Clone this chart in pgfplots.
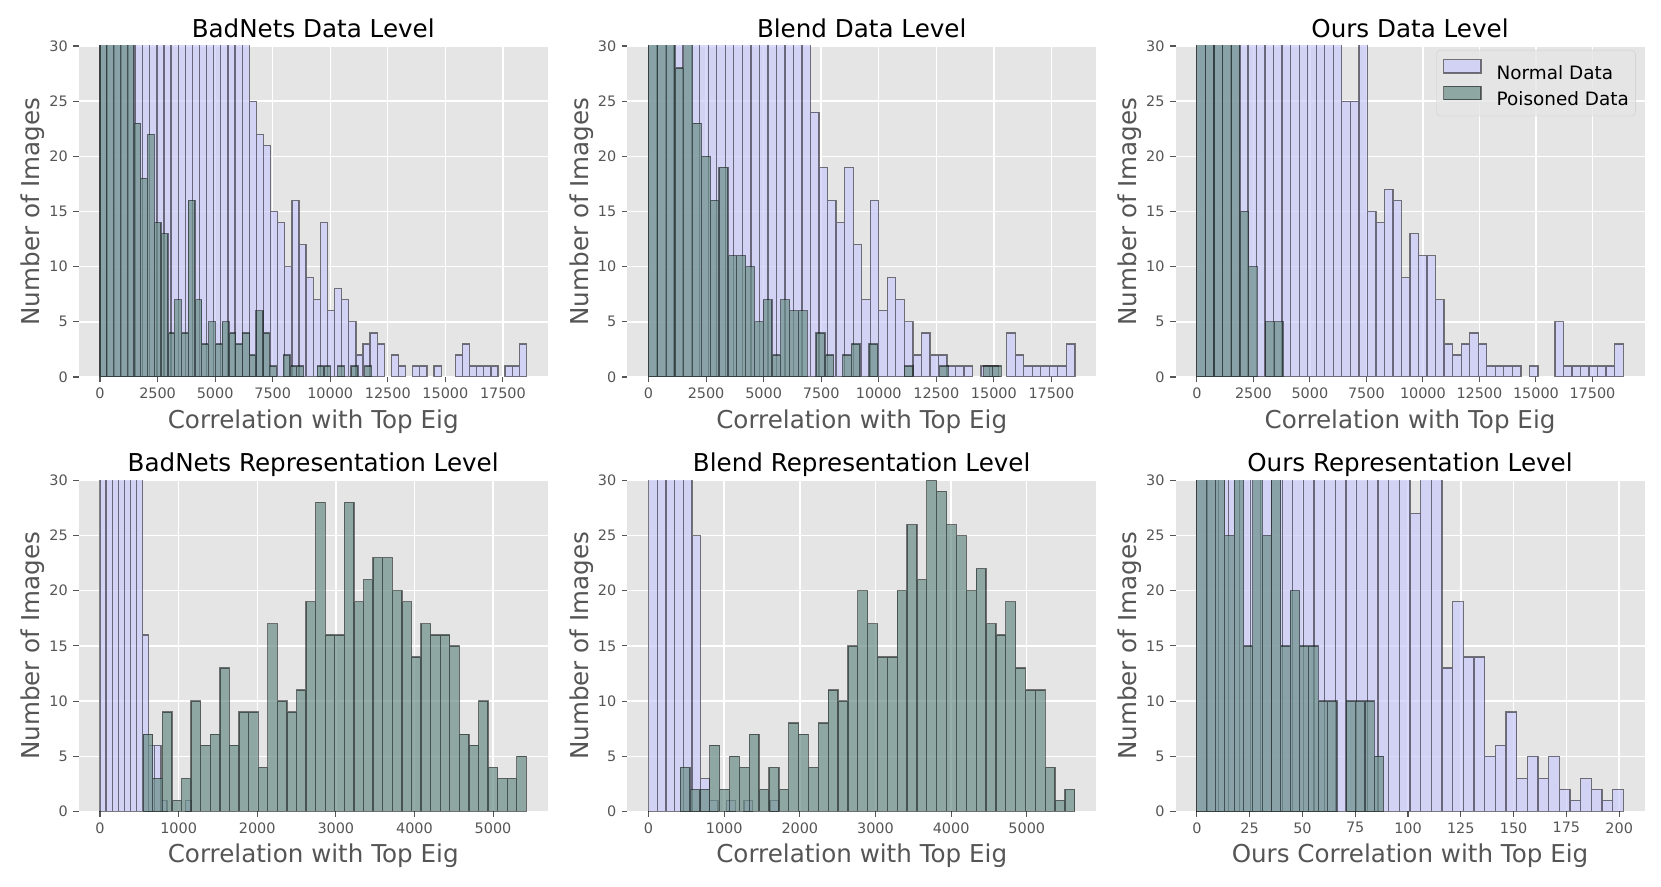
\documentclass[border=0pt]{standalone}
\usepackage{pgfplots}
\pgfplotsset{compat=1.18}
\usepackage{fontspec}
\setmainfont{DejaVu Sans}

\definecolor{bg}{HTML}{E5E5E5}
\definecolor{tickc}{HTML}{555555}
\definecolor{lav}{RGB}{203,203,253}
\definecolor{sage}{RGB}{106,142,136}
\definecolor{legedge}{HTML}{CCCCCC}

\newcommand\titlefont{\fontsize{24.6}{29}\selectfont}
\newcommand\labfont{\fontsize{24.6}{29}\selectfont}
\newcommand\tickfont{\fontsize{14.4}{17}\selectfont}
\newcommand\legfont{\fontsize{18.4}{22}\selectfont}

\pgfplotsset{
  panel/.style={
    width=469pt, height=331pt, scale only axis,
    anchor=south west,
    axis background/.style={fill=bg},
    axis line style={draw=none},
    grid=major, grid style={white, line width=1.4pt},
    tick align=outside, tick pos=left, major tick length=5.4pt,
    tick style={tickc, line width=1.1pt},
    ymin=0, ymax=30, ytick={0,5,...,30},
    enlargelimits=false, scaled ticks=false,
    ticklabel style={font=\tickfont, text=tickc, inner sep=0pt},
    xticklabel style={yshift=-5.4pt},
    yticklabel style={xshift=-5.4pt},
    /pgf/number format/1000 sep={},
    /pgf/number format/assume math mode=true,
    every axis title shift=0pt,
    title style={font=\titlefont, at={(axis description cs:0.5,1.0257)}, anchor=base, inner sep=0pt},
    xlabel style={font=\labfont, text=tickc, at={(axis description cs:0.5,-0.155)}, anchor=base, inner sep=0pt},
    ylabel style={font=\labfont, text=tickc, at={(axis description cs:-0.0832,0.5)}, anchor=base, inner sep=0pt},
    ylabel={Number of Images},
    xlabel={Correlation with Top Eig},
  },
  hist/.style={ybar, bar shift=0pt, draw=black, draw opacity=0.5, line width=1.3pt, fill opacity=0.7,
    legend image code/.code={\draw[##1, sharp corners] (0pt,0pt) rectangle (37.3pt,13.4pt);}},
  normal/.style={hist, fill=lav},
  poison/.style={hist, fill=sage},
}

\begin{document}
\begin{tikzpicture}

% ---------- top row: data level ----------
\begin{axis}[panel, at={(78.7pt,509pt)}, title={BadNets Data Level},
  xmin=-926, xmax=19446, xtick={0,2500,...,17500}]
\addplot[normal, bar width=308.7] table[row sep=\\, x expr=\thisrow{k}*308.7+154.35, y=n]{k n\\
0 40\\1 40\\2 40\\3 40\\4 40\\5 40\\6 40\\7 40\\8 40\\9 40\\10 40\\11 40\\12 40\\13 40\\14 40\\15 40\\16 40\\17 40\\18 40\\19 40\\20 40\\
21 25\\22 22\\23 21\\24 15\\25 14\\26 10\\27 16\\28 12\\29 9\\30 7\\31 14\\32 6\\33 8\\34 7\\35 5\\36 2\\37 3\\38 4\\39 3\\
41 2\\42 1\\44 1\\45 1\\47 1\\50 2\\51 3\\52 1\\53 1\\54 1\\55 1\\57 1\\58 1\\59 3\\};
\addplot[poison, bar width=294.75] table[row sep=\\, x expr=\thisrow{k}*294.75+147.375, y=n]{k n\\
0 40\\1 40\\2 40\\3 40\\4 40\\5 23\\6 18\\7 22\\8 14\\9 13\\10 4\\11 7\\12 4\\13 16\\14 7\\15 3\\16 5\\17 3\\18 5\\19 4\\
20 3\\21 4\\22 2\\23 6\\24 4\\25 1\\27 2\\28 1\\29 1\\32 1\\33 1\\35 1\\37 1\\39 1\\};
\end{axis}

\begin{axis}[panel, at={(627.2pt,509pt)}, title={Blend Data Level},
  xmin=-926, xmax=19446, xtick={0,2500,...,17500}]
\addplot[normal, bar width=370.4] table[row sep=\\, x expr=\thisrow{k}*370.4+185.2, y=n]{k n\\
0 40\\1 40\\2 40\\3 40\\4 40\\5 40\\6 40\\7 40\\8 40\\9 40\\10 40\\11 40\\12 40\\13 40\\14 40\\15 40\\16 40\\17 40\\18 40\\
19 24\\20 19\\21 16\\22 14\\23 19\\24 12\\25 7\\26 16\\27 6\\28 9\\29 7\\30 5\\31 2\\32 4\\33 2\\34 2\\35 1\\36 1\\37 1\\
39 1\\40 1\\42 4\\43 2\\44 1\\45 1\\46 1\\47 1\\48 1\\49 3\\};
\addplot[poison, bar width=383] table[row sep=\\, x expr=\thisrow{k}*383+191.5, y=n]{k n\\
0 40\\1 40\\2 40\\3 28\\4 40\\5 23\\6 20\\7 16\\8 19\\9 11\\10 11\\11 10\\12 5\\13 7\\14 2\\15 7\\16 6\\17 6\\19 4\\20 2\\
22 2\\23 3\\25 3\\29 1\\33 1\\38 1\\39 1\\};
\end{axis}

\begin{axis}[panel, at={(1175.5pt,509pt)}, title={Ours Data Level},
  xmin=-943, xmax=19803, xtick={0,2500,...,17500},
  legend style={at={(axis description cs:0.981,0.988)}, anchor=north east,
    fill=bg, fill opacity=0.8, text opacity=1, draw=legedge, rounded corners=4pt,
    font=\legfont, text=black, inner xsep=6.6pt, inner ysep=8.7pt, row sep=4.9pt,
    nodes={inner sep=0pt},
    /tikz/every odd column/.append style={column sep=15pt}},
  legend cell align=left]
\addplot[normal, bar width=377.2] table[row sep=\\, x expr=\thisrow{k}*377.2+188.6, y=n]{k n\\
0 40\\1 40\\2 40\\3 40\\4 40\\5 40\\6 40\\7 40\\8 40\\9 40\\10 40\\11 40\\12 40\\13 40\\14 40\\15 40\\16 40\\
17 25\\18 25\\19 40\\20 15\\21 14\\22 17\\23 16\\24 9\\25 13\\26 11\\27 11\\28 7\\29 3\\30 2\\31 3\\32 4\\33 3\\
34 1\\35 1\\36 1\\37 1\\39 1\\42 5\\43 1\\44 1\\45 1\\46 1\\47 1\\48 1\\49 3\\};
\addplot[poison, bar width=381.2] table[row sep=\\, x expr=\thisrow{k}*381.2+190.6, y=n]{k n\\
0 40\\1 40\\2 40\\3 40\\4 40\\5 15\\6 10\\8 5\\9 5\\};
\legend{Normal Data, Poisoned Data}
\end{axis}

% ---------- bottom row: representation level ----------
\begin{axis}[panel, at={(78.7pt,74.6pt)}, title={BadNets Representation Level},
  xmin=-271, xmax=5695, xtick={0,1000,...,5000}]
\addplot[normal, bar width=77.5] table[row sep=\\, x expr=\thisrow{k}*77.5+38.75, y=n]{k n\\
0 40\\1 40\\2 40\\3 40\\4 40\\5 40\\6 40\\7 16\\8 6\\9 6\\10 1\\14 1\\};
\addplot[poison, bar width=121.85] table[row sep=\\, x expr=\thisrow{k}*121.85+610.9, y=n]{k n\\
0 7\\1 3\\2 9\\3 1\\4 3\\5 10\\6 6\\7 7\\8 13\\9 6\\10 9\\11 9\\12 4\\13 17\\14 10\\15 9\\16 11\\17 19\\18 28\\19 16\\
20 16\\21 28\\22 19\\23 21\\24 23\\25 23\\26 20\\27 19\\28 14\\29 17\\30 16\\31 16\\32 15\\33 7\\34 6\\35 10\\36 4\\37 3\\38 3\\39 5\\};
\end{axis}

\begin{axis}[panel, at={(627.2pt,74.6pt)}, title={Blend Representation Level},
  xmin=-282, xmax=5918, xtick={0,1000,...,5000}]
\addplot[normal, bar width=114.6] table[row sep=\\, x expr=\thisrow{k}*114.6+57.3, y=n]{k n\\
0 40\\1 40\\2 40\\3 40\\4 40\\5 25\\6 3\\7 1\\9 1\\11 1\\14 1\\};
\addplot[poison, bar width=130.4] table[row sep=\\, x expr=\thisrow{k}*130.4+484.2, y=n]{k n\\
0 4\\1 2\\2 2\\3 6\\4 2\\5 5\\6 4\\7 7\\8 2\\9 4\\10 2\\11 8\\12 7\\13 4\\14 8\\15 11\\16 10\\17 15\\18 20\\19 17\\
20 14\\21 14\\22 20\\23 26\\24 21\\25 30\\26 29\\27 26\\28 25\\29 20\\30 22\\31 17\\32 16\\33 19\\34 13\\35 11\\36 11\\37 4\\38 1\\39 2\\};
\end{axis}

\begin{axis}[panel, at={(1175.5pt,74.6pt)}, title={Ours Representation Level},
  xmin=-10.1, xmax=212, xtick={0,25,...,200}, xlabel={Ours Correlation with Top Eig}]
\addplot[normal, bar width=5.05] table[row sep=\\, x expr=\thisrow{k}*5.05+2.525, y=n]{k n\\
0 40\\1 40\\2 40\\3 40\\4 40\\5 40\\6 40\\7 40\\8 40\\9 40\\10 40\\11 40\\12 40\\13 40\\14 40\\15 40\\16 40\\17 40\\18 40\\19 40\\
20 27\\21 40\\22 40\\23 13\\24 19\\25 14\\26 14\\27 5\\28 6\\29 9\\30 3\\31 5\\32 3\\33 5\\34 2\\35 1\\36 3\\37 2\\38 1\\39 2\\};
\addplot[poison, bar width=4.42] table[row sep=\\, x expr=\thisrow{k}*4.42+2.21, y=n]{k n\\
0 40\\1 40\\2 40\\3 25\\4 40\\5 15\\6 40\\7 25\\8 40\\9 15\\10 20\\11 15\\12 15\\13 10\\14 10\\16 10\\17 10\\18 10\\19 5\\};
\end{axis}

\pgfresetboundingbox
\path[use as bounding box] (0,0) rectangle (1661pt,886pt);
\end{tikzpicture}
\end{document}
